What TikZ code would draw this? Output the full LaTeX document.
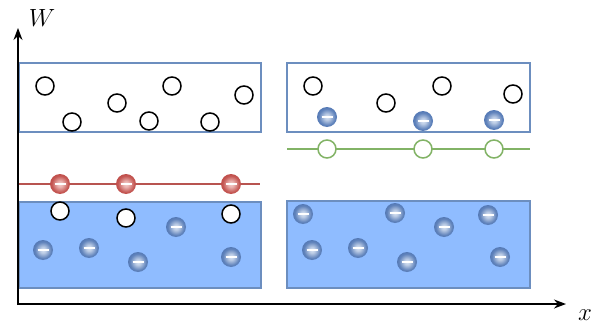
\documentclass[tikz,border=0pt]{standalone}
\usetikzlibrary{arrows.meta}
\definecolor{bandline}{RGB}{108,142,191}
\definecolor{bandfill}{RGB}{143,188,255}
\definecolor{elecin}{RGB}{215,226,242}
\definecolor{elecout}{RGB}{85,122,182}
\definecolor{redin}{RGB}{245,205,202}
\definecolor{redout}{RGB}{192,78,74}
\definecolor{redline}{RGB}{184,84,80}
\definecolor{greenline}{RGB}{130,179,102}
\pgfdeclareradialshading{eball}{\pgfpoint{0bp}{0bp}}{color(0bp)=(elecin); color(7bp)=(elecin!80!elecout); color(20bp)=(elecout!90!elecin); color(25bp)=(elecout); color(50bp)=(elecout)}
\pgfdeclareradialshading{rball}{\pgfpoint{0bp}{0bp}}{color(0bp)=(redin); color(7bp)=(redin!80!redout); color(20bp)=(redout!90!redin); color(25bp)=(redout); color(50bp)=(redout)}
\begin{document}
\begin{tikzpicture}[x=1pt,y=-1pt,line cap=butt,line join=miter,>={Stealth[length=12pt,width=9pt]},font=\fontsize{25}{30}\selectfont]
  \tikzset{band/.style={draw=bandline,line width=1.5pt},
    hole/.style={circle,draw=black,fill=white,line width=1.5pt,minimum size=18pt,inner sep=0pt},
    greenhole/.style={hole,draw=greenline},
    minus/.style={circle,minimum size=20pt,inner sep=0pt,shade,shading=#1,
        path picture={\draw[white,line width=1.8pt]
          ([xshift=-5.5pt]path picture bounding box.center)--([xshift=5.5pt]path picture bounding box.center);}},
    electron/.style={minus=eball},
    redel/.style={minus=rball}}
  \useasboundingbox (0,0) rectangle (603,324);
  % bands
  \draw[band] (19,63) rectangle (261,132);
  \draw[band] (287,63) rectangle (530,132);
  \draw[band,fill=bandfill] (19,202) rectangle (261,288);
  \draw[band,fill=bandfill] (287,201) rectangle (530,288);
  % levels
  \draw[redline,line width=1.5pt] (19,184)--(260,184);
  \draw[greenline,line width=1.5pt] (287,149)--(530,149);
  % axes
  \draw[line width=1.5pt,->] (18,305)--(18,28) node[shift={(24,-10)}]{$W$};
  \draw[line width=1.5pt,->] (17,304)--(566,304) node[shift={(19,11)}]{$x$};
  % empty states
  \foreach \x/\y [count=\i] in {45/86,72/122,117/103,149/121,172/86,210/122,244/95,
      313/86,386/103,442/86,513/94,60/211,126/218,231/214}{
    \node[hole] (h\i) at (\x,\y) {};}
  \foreach \x [count=\i] in {327,423,494}{
    \node[greenhole] (g\i) at (\x,149) {};}
  \foreach \x [count=\i] in {60,126,231}{
    \node[redel] (r\i) at (\x,184) {};}
  % electrons
  \foreach \x/\y [count=\i] in {327/117,423/121,494/120,
      43/250,89/248,138/262,176/227,231/257,
      303/214,312/250,358/248,395/213,407/262,444/227,488/215,500/257}{
    \node[electron] (e\i) at (\x,\y) {};}
\end{tikzpicture}
\end{document}
